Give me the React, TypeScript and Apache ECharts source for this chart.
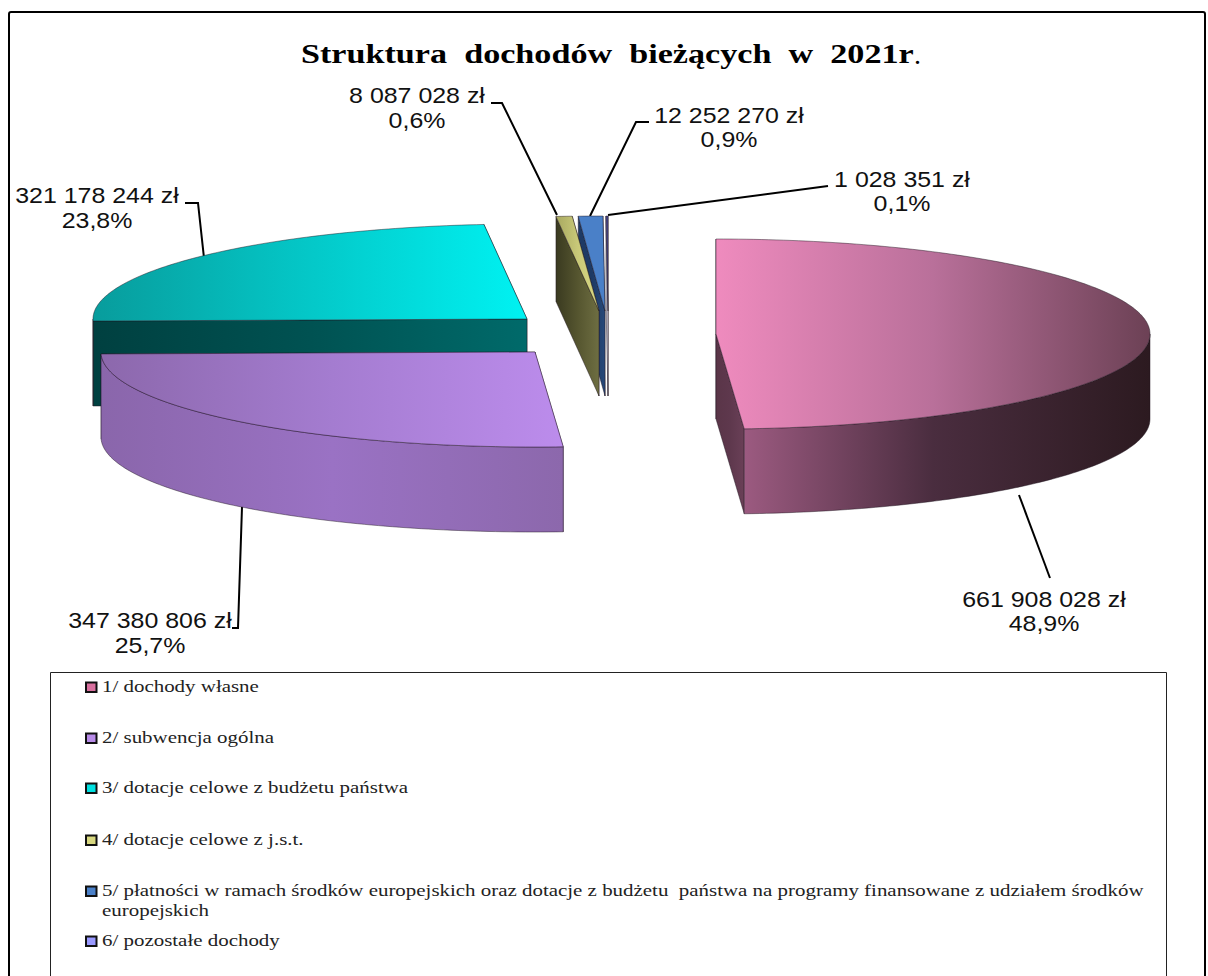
import React, { useEffect, useRef } from "react";
import * as echarts from "echarts";

const titleText = "Struktura  dochodów  bieżących  w  2021r";
const categories = [
  "1/ dochody własne",
  "2/ subwencja ogólna",
  "3/ dotacje celowe z budżetu państwa",
  "4/ dotacje celowe z j.s.t.",
  "5/ płatności w ramach środków europejskich oraz dotacje z budżetu  państwa na programy finansowane z udziałem środków\neuropejskich",
  "6/ pozostałe dochody",
];
const amounts = [661908028, 347380806, 321178244, 8087028, 12252270, 1028351];
const percentLabels = ["48,9%", "25,7%", "23,8%", "0,6%", "0,9%", "0,1%"];

// Painter's order, back to front.
const paintOrder = [2, 1, 5, 4, 3, 0];

type Stops = [string, string, string];
const palette: { top: Stops; wall: Stops; face: Stops; key: string }[] = [
  { top: ["#ef8bbe", "#b9709a", "#6c4155"], wall: ["#a8618a", "#4a2d3f", "#2c1a20"], face: ["#5a3548", "#5e384d", "#6a4057"], key: "#d9709f" },
  { top: ["#8c68ac", "#a47cd0", "#bc8cec"], wall: ["#8a66ab", "#9a72c4", "#8c68ac"], face: ["#8c68ac", "#8c68ac", "#8c68ac"], key: "#b88be8" },
  { top: ["#089c9c", "#04c8c8", "#00f2f2"], wall: ["#004040", "#005252", "#006a6a"], face: ["#004040", "#005252", "#006a6a"], key: "#00e0e0" },
  { top: ["#a8a860", "#c8c878", "#dada84"], wall: ["#3a3a20", "#55552f", "#6e6e42"], face: ["#3a3a20", "#55552f", "#6e6e42"], key: "#d8d880" },
  { top: ["#4a80c8", "#4a80c8", "#4a80c8"], wall: ["#1e3a64", "#1e3a64", "#1e3a64"], face: ["#1e3a64", "#1e3a64", "#27497a"], key: "#4a80c8" },
  { top: ["#4a4a90", "#4a4a90", "#4a4a90"], wall: ["#c8c8d8", "#c8c8d8", "#c8c8d8"], face: ["#b8b8c8", "#c8c8d8", "#c8c8d8"], key: "#9999ff" },
];

const apexes = [
  [716, 334],
  [535, 352],
  [527, 319],
  [599, 311],
  [605, 311],
  [608, 311],
];
const RX = 434;
const RY = 95;
const DEPTH = 85;

const leaderLines = [
  [[1019, 495], [1050, 578]],
  [[242, 507], [238, 628], [232, 628]],
  [[204, 258], [198, 203], [185, 203]],
  [[557, 215], [502, 103], [491, 103]],
  [[590, 216], [636, 122], [649, 122]],
  [[608, 215], [828, 186]],
];
const labelBoxes = [
  { x: 1044, y1: 600, y2: 624 },
  { x: 150, y1: 621, y2: 646 },
  { x: 97, y1: 196, y2: 221 },
  { x: 417, y1: 96, y2: 121 },
  { x: 729, y1: 116, y2: 140 },
  { x: 902, y1: 180, y2: 204 },
];
const legendRows = [687, 738, 788, 840, 891, 941];

const total = amounts.reduce((a, b) => a + b, 0);
const startAngles: number[] = [];
amounts.reduce((acc, v, i) => {
  startAngles[i] = acc;
  return acc + (v / total) * 360;
}, 0);

const fmt = (v: number) =>
  String(v).replace(/\B(?=(\d{3})+(?!\d))/g, " ") + " zł";

const gradient = (x0: number, x1: number, s: Stops) => ({
  type: "linear",
  x: x0,
  y: 0,
  x2: x1 > x0 ? x1 : x0 + 1,
  y2: 0,
  global: true,
  colorStops: [
    { offset: 0, color: s[0] },
    { offset: 0.5, color: s[1] },
    { offset: 1, color: s[2] },
  ],
});

const edge = { stroke: "rgba(30,20,30,0.65)", lineWidth: 0.7 };

function renderSlice(params: any, api: any) {
  const idx = api.value(1) as number;
  const value = api.value(0) as number;
  const [cx, cy] = apexes[idx];
  const a0 = startAngles[idx];
  const a1 = a0 + (value / total) * 360;
  const pt = (deg: number, dy = 0) => {
    const r = (deg * Math.PI) / 180;
    return [cx + RX * Math.sin(r), cy - RY * Math.cos(r) + dy];
  };
  const arc = (from: number, to: number, dy = 0) => {
    const n = Math.max(2, Math.ceil(Math.abs(to - from)));
    const out: number[][] = [];
    for (let i = 0; i <= n; i++) out.push(pt(from + ((to - from) * i) / n, dy));
    return out;
  };
  const c = palette[idx];
  const rim = arc(a0, a1);
  const xs = rim.map((p) => p[0]).concat(cx);
  const xMin = Math.min(...xs);
  const xMax = Math.max(...xs);
  const children: any[] = [];
  const face = (deg: number) => {
    const p = pt(deg);
    const lo = Math.min(p[0], cx);
    const hi = Math.max(p[0], cx);
    children.push({
      type: "polygon",
      shape: { points: [[cx, cy], p, [p[0], p[1] + DEPTH], [cx, cy + DEPTH]] },
      style: { fill: gradient(lo, hi, c.face), ...edge },
    });
  };
  // The cut face nearer the back is painted first.
  [a0, a1].sort((p, q) => pt(p)[1] - pt(q)[1]).forEach(face);
  const w0 = Math.max(a0, 90);
  const w1 = Math.min(a1, 270);
  if (w1 > w0) {
    const upper = arc(w0, w1);
    const lower = arc(w1, w0, DEPTH);
    children.push({
      type: "polygon",
      shape: { points: upper.concat(lower) },
      style: { fill: gradient(xMin, xMax, c.wall), ...edge },
    });
  }
  children.push({
    type: "polygon",
    shape: { points: [[cx, cy], ...rim] },
    style: { fill: gradient(xMin, xMax, c.top), ...edge },
  });
  return { type: "group", children };
}

export default function App() {
  const ref = useRef<HTMLDivElement>(null);
  useEffect(() => {
    document.body.style.margin = "0";
    document.body.style.overflow = "hidden";
    const chart = echarts.init(ref.current!, null, { renderer: "svg" });
    const labelFont = { fontFamily: "Liberation Sans", fontSize: 21.5, fill: "#111" };
    const stretch = 1.16;
    const graphics: any[] = [
      {
        type: "rect",
        silent: true,
        shape: { x: 9, y: 12, width: 1196, height: 1000, r: 2 },
        style: { fill: "#fff", stroke: "#000", lineWidth: 2 },
        z: -5,
      },
      {
        type: "rect",
        silent: true,
        shape: { x: 50.5, y: 672.5, width: 1116, height: 400 },
        style: { fill: "#fff", stroke: "#222", lineWidth: 1 },
        z: -4,
      },
      {
        type: "text",
        z: 5,
        x: 301,
        y: 54,
        scaleX: 1.22,
        style: {
          text: titleText,
          fontFamily: "Liberation Serif",
          fontWeight: "bold",
          fontSize: 28,
          fill: "#000",
          align: "left",
          verticalAlign: "middle",
        },
      },
      {
        type: "text",
        z: 5,
        x: 914,
        y: 54,
        style: { text: ".", fontFamily: "Liberation Serif", fontSize: 28, fill: "#000", verticalAlign: "middle" },
      },
    ];
    leaderLines.forEach((pts) =>
      graphics.push({
        type: "polyline",
        silent: true,
        z: 1,
        shape: { points: pts },
        style: { fill: "none", stroke: "#000", lineWidth: 2 },
      })
    );
    amounts.forEach((v, i) => {
      const b = labelBoxes[i];
      graphics.push(
        { type: "text", z: 5, x: b.x, y: b.y1, scaleX: stretch, style: { ...labelFont, text: fmt(v), align: "center", verticalAlign: "middle" } },
        { type: "text", z: 5, x: b.x, y: b.y2, scaleX: stretch, style: { ...labelFont, text: percentLabels[i], align: "center", verticalAlign: "middle" } }
      );
    });
    categories.forEach((name, i) => {
      const y = legendRows[i];
      graphics.push({
        type: "rect",
        z: 5,
        shape: { x: 86, y: y - 4.5, width: 10.5, height: 9.5 },
        style: { fill: palette[i].key, stroke: "#111", lineWidth: 2 },
      });
      graphics.push({
        type: "text",
        z: 5,
        x: 102,
        y: y - 11,
        scaleX: 1.196,
        style: {
          text: name,
          fontFamily: "Liberation Serif",
          fontSize: 17.5,
          lineHeight: 20,
          fill: "#222",
          align: "left",
          verticalAlign: "top",
        },
      });
    });
    chart.setOption({
      animation: false,
      backgroundColor: "#fff",
      graphic: graphics,
      series: [
        {
          type: "custom",
          coordinateSystem: "none",
          silent: true,
          renderItem: renderSlice,
          data: paintOrder.map((i) => [amounts[i], i]),
        },
      ],
    });
    return () => chart.dispose();
  }, []);
  return <div ref={ref} style={{ position: "absolute", left: 0, top: 0, width: 1208, height: 976 }} />;
}
